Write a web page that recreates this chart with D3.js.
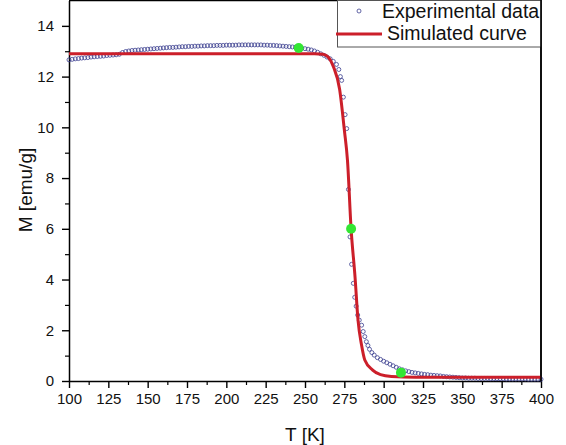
<!DOCTYPE html>
<html>
<head>
<meta charset="utf-8">
<script src="https://cdn.jsdelivr.net/npm/d3@7"></script>
<style>
  body { margin: 0; background: #fff; }
  svg { display: block; font-family: "Liberation Sans", Arial, sans-serif; }
</style>
</head>
<body>
<div class="chart-container"></div>
<script>
const expT = [
  100, 102, 104, 106, 108, 110, 112, 114, 116, 118, 120, 122, 124, 126, 128, 130, 132, 134, 136, 138,
  140, 142, 144, 146, 148, 150, 152, 154, 156, 158, 160, 162, 164, 166, 168, 170, 172, 174, 176, 178,
  180, 182, 184, 186, 188, 190, 192, 194, 196, 198, 200, 202, 204, 206, 208, 210, 212, 214, 216, 218,
  220, 222, 224, 226, 228, 230, 232, 234, 236, 238, 240, 242, 244, 246, 248, 250, 252, 254, 256, 258,
  260, 262, 264, 266, 268, 270, 271.5, 272.5, 273.3, 274.4, 275.5, 276.5, 277.6, 278.6, 279.6, 280.7,
  281.6, 282.5, 283.5, 284.5, 286, 287, 288, 289, 290, 291, 292.5, 294, 296, 298, 300, 302, 304, 306,
  308, 310, 312, 314, 316, 318, 320, 322, 324, 326, 328, 330, 332, 334, 336, 338, 340, 342, 344, 346,
  348, 350, 352, 354, 356, 358, 360, 362, 364, 366, 368, 370, 372, 374, 376, 378, 380, 382, 384, 386,
  388, 390, 392, 394, 396, 398, 400
];
const expM = [
  12.66, 12.68, 12.70, 12.71, 12.73, 12.74, 12.75, 12.77, 12.78, 12.79, 12.80, 12.81, 12.83, 12.84, 12.85, 12.86, 12.88, 12.95, 12.99, 13.01,
  13.03, 13.04, 13.05, 13.06, 13.07, 13.08, 13.09, 13.10, 13.11, 13.12, 13.13, 13.14, 13.15, 13.15, 13.16, 13.17, 13.18, 13.18, 13.19, 13.19,
  13.20, 13.20, 13.21, 13.21, 13.22, 13.22, 13.22, 13.23, 13.23, 13.23, 13.24, 13.24, 13.24, 13.24, 13.25, 13.25, 13.25, 13.25, 13.25, 13.25,
  13.25, 13.25, 13.24, 13.24, 13.23, 13.23, 13.22, 13.21, 13.20, 13.19, 13.18, 13.17, 13.16, 13.14, 13.12, 13.10, 13.08, 13.05, 13.01, 12.96,
  12.90, 12.84, 12.77, 12.70, 12.60, 12.48, 12.28, 12.00, 11.85, 11.19, 10.50, 9.95, 7.55, 5.68, 4.60, 3.85,
  3.30, 2.95, 2.60, 2.40, 2.20, 1.95, 1.75, 1.55, 1.40, 1.25, 1.12, 1.02, 0.92, 0.85, 0.78, 0.72, 0.66, 0.60,
  0.54, 0.48, 0.44, 0.40, 0.37, 0.34, 0.32, 0.30, 0.28, 0.26, 0.25, 0.23, 0.22, 0.21, 0.20, 0.18, 0.17, 0.16, 0.15, 0.14,
  0.13, 0.12, 0.12, 0.11, 0.11, 0.11, 0.10, 0.10, 0.10, 0.10, 0.09, 0.09, 0.09, 0.09, 0.09, 0.08, 0.08, 0.08, 0.08, 0.08,
  0.08, 0.08, 0.07, 0.07, 0.07, 0.07, 0.07
];

// Simulated curve
const simT = [100, 150, 200, 250, 256, 261.5, 265, 268, 272, 275, 277, 279.3, 281.8, 283.7, 286, 288, 293, 298, 305, 320, 350, 400];
const simM = [12.9, 12.9, 12.9, 12.9, 12.9, 12.88, 12.75, 12.4, 11.5, 9.9, 8.7, 6.0, 4.1, 2.4, 1.4, 0.83, 0.43, 0.25, 0.18, 0.15, 0.15, 0.15];

// Highlighted points (green)
const markT = [246, 279.3, 311];
const markM = [13.13, 6.0, 0.33];

// Ticks
const xTicks = [100, 125, 150, 175, 200, 225, 250, 275, 300, 325, 350, 375, 400];
const yTicks = [0, 2, 4, 6, 8, 10, 12, 14];

const legendLabels = ['Experimental data', 'Simulated curve'];

function build_x_scale() {
   return d3.scaleLinear().domain([100, 400]).range([69, 541]);
}

function build_y_scale() {
   return d3.scaleLinear().domain([0, 15]).range([381, 0.5]);
}

function build_svg() {
   return d3.select('.chart-container')
      .append('svg')
      .attr('width', 566)
      .attr('height', 445);
}

function draw_axes(svg, x, y) {
   const xMinor = d3.range(112.5, 400, 25);
   const yMinor = d3.range(1, 15, 2);

   // minor ticks first
   svg.append('g')
      .attr('transform', 'translate(0,381)')
      .call(d3.axisBottom(x).tickValues(xMinor).tickSize(4).tickFormat(''))
      .call(g => g.select('.domain').remove())
      .selectAll('line').attr('stroke', '#000').attr('stroke-width', 1.2);

   svg.append('g')
      .attr('transform', 'translate(69,0)')
      .call(d3.axisLeft(y).tickValues(yMinor).tickSize(4).tickFormat(''))
      .call(g => g.select('.domain').remove())
      .selectAll('line').attr('stroke', '#000').attr('stroke-width', 1.2);

   const xAxis = svg.append('g')
      .attr('transform', 'translate(0,381)')
      .call(d3.axisBottom(x).tickValues(xTicks).tickSize(7).tickSizeOuter(0).tickPadding(5));
   xAxis.select('.domain').attr('stroke', '#000').attr('stroke-width', 1.5);
   xAxis.selectAll('line').attr('stroke', '#000').attr('stroke-width', 1.4);
   xAxis.selectAll('text').attr('font-size', 15).attr('fill', '#111')
      .attr('font-family', '"Liberation Sans", Arial, sans-serif');

   const yAxis = svg.append('g')
      .attr('transform', 'translate(69,0)')
      .call(d3.axisLeft(y).tickValues(yTicks).tickSize(7).tickSizeOuter(0).tickPadding(8));
   yAxis.select('.domain').attr('stroke', '#000').attr('stroke-width', 1.5);
   yAxis.selectAll('line').attr('stroke', '#000').attr('stroke-width', 1.4);
   yAxis.selectAll('text').attr('font-size', 15).attr('fill', '#111')
      .attr('font-family', '"Liberation Sans", Arial, sans-serif');

   // frame: top and right edges
   svg.append('line')
      .attr('x1', 69).attr('x2', 541).attr('y1', 0.5).attr('y2', 0.5)
      .attr('stroke', '#000').attr('stroke-width', 1.5);
   svg.append('line')
      .attr('x1', 541).attr('x2', 541).attr('y1', 0).attr('y2', 381)
      .attr('stroke', '#000').attr('stroke-width', 1.5);

   // axis titles
   svg.append('text')
      .attr('x', 305).attr('y', 441)
      .attr('text-anchor', 'middle')
      .attr('font-size', 19)
      .attr('fill', '#111')
      .text('T [K]');

   svg.append('text')
      .attr('transform', 'translate(32,190) rotate(-90)')
      .attr('text-anchor', 'middle')
      .attr('font-size', 19)
      .attr('fill', '#111')
      .text('M [emu/g]');
}

function draw_data(svg, x, y) {
   const expData = expT.map((t, i) => ({t: t, m: expM[i]}));
   const simData = simT.map((t, i) => ({t: t, m: simM[i]}));
   const marks = markT.map((t, i) => ({t: t, m: markM[i]}));

   svg.append('g')
      .selectAll('circle')
      .data(expData)
      .enter()
      .append('circle')
      .attr('cx', d => x(d.t))
      .attr('cy', d => y(d.m))
      .attr('r', 2)
      .attr('fill', 'none')
      .attr('stroke', '#3b3f8f')
      .attr('stroke-width', 0.8);

   const line = d3.line()
      .x(d => x(d.t))
      .y(d => y(d.m))
      .curve(d3.curveMonotoneX);

   svg.append('path')
      .datum(simData)
      .attr('d', line)
      .attr('fill', 'none')
      .attr('stroke', '#cc1f2a')
      .attr('stroke-width', 3);

   svg.append('g')
      .selectAll('circle')
      .data(marks)
      .enter()
      .append('circle')
      .attr('cx', d => x(d.t))
      .attr('cy', d => y(d.m))
      .attr('r', 5)
      .attr('fill', '#33e633');
}

function draw_legend(svg) {
   const g = svg.append('g');
   g.append('rect')
      .attr('x', 337.5).attr('y', 0.5)
      .attr('width', 203.5).attr('height', 46.5)
      .attr('fill', '#fff')
      .attr('stroke', '#555')
      .attr('stroke-width', 1);

   g.append('circle')
      .attr('cx', 359).attr('cy', 11).attr('r', 2)
      .attr('fill', 'none').attr('stroke', '#3b3f8f').attr('stroke-width', 0.8);
   g.append('line')
      .attr('x1', 336).attr('x2', 382).attr('y1', 34).attr('y2', 34)
      .attr('stroke', '#cc1f2a').attr('stroke-width', 3);

   g.selectAll('text')
      .data(legendLabels)
      .enter()
      .append('text')
      .attr('x', (d, i) => i === 0 ? 382 : 387)
      .attr('y', (d, i) => i === 0 ? 18 : 40)
      .attr('font-size', 19.5)
      .attr('fill', '#111')
      .text(d => d);
}

function build_chart() {
   const x = build_x_scale();
   const y = build_y_scale();
   const svg = build_svg();
   draw_axes(svg, x, y);
   draw_data(svg, x, y);
   draw_legend(svg);
   // redraw right frame over legend edge
   svg.append('line')
      .attr('x1', 541).attr('x2', 541).attr('y1', 0).attr('y2', 381)
      .attr('stroke', '#000').attr('stroke-width', 1.5);
}

build_chart();
</script>
</body>
</html>
